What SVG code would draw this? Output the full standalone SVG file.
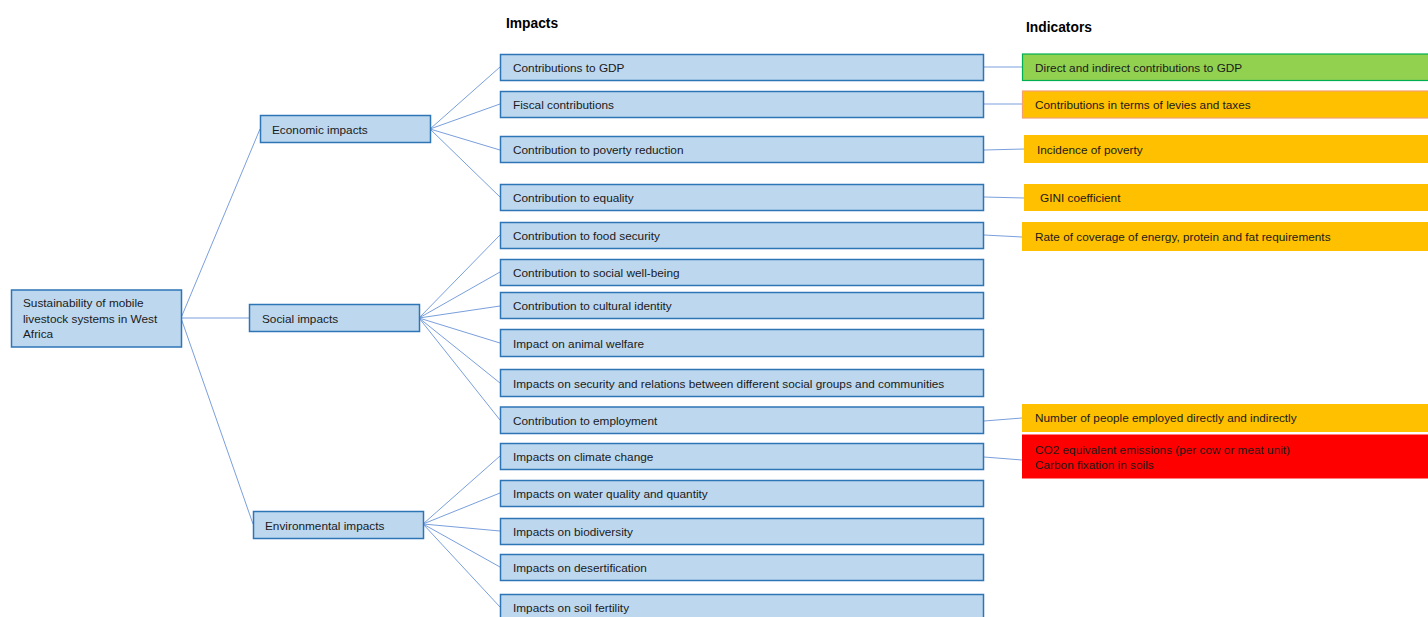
<svg xmlns="http://www.w3.org/2000/svg" width="1428" height="617" viewBox="0 0 1428 617">
  <style>
    text { font-family: "Liberation Sans", Arial, sans-serif; font-size: 11.8px; fill: #1a1a1a; }
    .hdr { font-weight: bold; font-size: 13.8px; fill: #000; }
    .box { fill: #BDD7EE; stroke: #2E75B6; stroke-width: 1.5; }
    .green { fill: #92D050; stroke: #00B050; stroke-width: 1.2; }
    .amber { fill: #FFC000; }
    .amber-edge { fill: #FFC000; stroke: #F4A070; stroke-width: 1.2; }
    .red { fill: #FF0000; }
    #connectors line { stroke: #7A9FDC; stroke-width: 1; }
  </style>

  <rect width="1428" height="617" fill="#fff"/>

  <!-- column headings -->
  <text class="hdr" x="506" y="28">Impacts</text>
  <text class="hdr" x="1026" y="32">Indicators</text>

  <!-- connectors -->
  <g id="connectors">
    <!-- root to pillars -->
    <line x1="181" y1="318" x2="260" y2="129"/>
    <line x1="181" y1="318" x2="249" y2="318"/>
    <line x1="181" y1="318" x2="253" y2="524"/>
    <!-- economic -->
    <line x1="430" y1="129" x2="500" y2="67"/>
    <line x1="430" y1="129" x2="500" y2="104"/>
    <line x1="430" y1="129" x2="500" y2="150"/>
    <line x1="430" y1="129" x2="500" y2="197"/>
    <!-- social -->
    <line x1="419" y1="318" x2="500" y2="235"/>
    <line x1="419" y1="318" x2="500" y2="272"/>
    <line x1="419" y1="318" x2="500" y2="306"/>
    <line x1="419" y1="318" x2="500" y2="343"/>
    <line x1="419" y1="318" x2="500" y2="383"/>
    <line x1="419" y1="318" x2="500" y2="420"/>
    <!-- environmental -->
    <line x1="423" y1="524" x2="500" y2="456"/>
    <line x1="423" y1="524" x2="500" y2="493"/>
    <line x1="423" y1="524" x2="500" y2="531"/>
    <line x1="423" y1="524" x2="500" y2="567"/>
    <line x1="423" y1="524" x2="500" y2="607"/>
    <!-- impacts to indicators -->
    <line x1="984" y1="67" x2="1022" y2="67"/>
    <line x1="984" y1="104" x2="1022" y2="104"/>
    <line x1="984" y1="150" x2="1024" y2="149"/>
    <line x1="984" y1="197" x2="1024" y2="198"/>
    <line x1="984" y1="235" x2="1022" y2="237"/>
    <line x1="984" y1="421" x2="1022" y2="418"/>
    <line x1="984" y1="457" x2="1022" y2="460"/>
  </g>

  <!-- root -->
  <g id="root">
    <rect class="box" x="11.5" y="290" width="170" height="57"/>
    <text x="23" y="307">Sustainability of mobile</text>
    <text x="23" y="323">livestock systems in West</text>
    <text x="23" y="338">Africa</text>
  </g>

  <!-- pillars -->
  <g id="economic">
    <rect class="box" x="260.5" y="115.5" width="170" height="27"/>
    <text x="272" y="133.5">Economic impacts</text>
  </g>
  <g id="social">
    <rect class="box" x="249.5" y="304.5" width="170" height="27"/>
    <text x="262" y="322.5">Social impacts</text>
  </g>
  <g id="environmental">
    <rect class="box" x="253.5" y="511.5" width="170" height="27"/>
    <text x="265" y="529.5">Environmental impacts</text>
  </g>

  <!-- impacts -->
  <g id="imp-gdp"><rect class="box" x="500.5" y="54.5" width="483" height="26"/><text x="513" y="71.5">Contributions to GDP</text></g>
  <g id="imp-fiscal"><rect class="box" x="500.5" y="91.5" width="483" height="26"/><text x="513" y="108.5">Fiscal contributions</text></g>
  <g id="imp-poverty"><rect class="box" x="500.5" y="136.5" width="483" height="26"/><text x="513" y="154">Contribution to poverty reduction</text></g>
  <g id="imp-equality"><rect class="box" x="500.5" y="184.5" width="483" height="26"/><text x="513" y="202">Contribution to equality</text></g>
  <g id="imp-food"><rect class="box" x="500.5" y="222.5" width="483" height="26"/><text x="513" y="240">Contribution to food security</text></g>
  <g id="imp-wellbeing"><rect class="box" x="500.5" y="259.5" width="483" height="26"/><text x="513" y="277">Contribution to social well-being</text></g>
  <g id="imp-culture"><rect class="box" x="500.5" y="292.5" width="483" height="26"/><text x="513" y="310">Contribution to cultural identity</text></g>
  <g id="imp-animal"><rect class="box" x="500.5" y="329.5" width="483" height="27"/><text x="513" y="347.5">Impact on animal welfare</text></g>
  <g id="imp-security"><rect class="box" x="500.5" y="369.5" width="483" height="27"/><text x="513" y="387.5">Impacts on security and relations between different social groups and communities</text></g>
  <g id="imp-employment"><rect class="box" x="500.5" y="407" width="483" height="26.5"/><text x="513" y="424.5">Contribution to employment</text></g>
  <g id="imp-climate"><rect class="box" x="500.5" y="443.5" width="483" height="26"/><text x="513" y="461">Impacts on climate change</text></g>
  <g id="imp-water"><rect class="box" x="500.5" y="480.5" width="483" height="26"/><text x="513" y="498">Impacts on water quality and quantity</text></g>
  <g id="imp-biodiversity"><rect class="box" x="500.5" y="518.5" width="483" height="26"/><text x="513" y="536">Impacts on biodiversity</text></g>
  <g id="imp-desert"><rect class="box" x="500.5" y="554.5" width="483" height="26"/><text x="513" y="572">Impacts on desertification</text></g>
  <g id="imp-soil"><rect class="box" x="500.5" y="594.5" width="483" height="30"/><text x="513" y="612">Impacts on soil fertility</text></g>

  <!-- indicators -->
  <g id="ind-gdp"><rect class="green" x="1022.5" y="54" width="410" height="26.5"/><text x="1035" y="71.5">Direct and indirect contributions to GDP</text></g>
  <g id="ind-levies"><rect class="amber-edge" x="1022.5" y="91" width="410" height="27"/><text x="1035" y="108.5">Contributions in terms of levies and taxes</text></g>
  <g id="ind-poverty"><rect class="amber" x="1024" y="135" width="404" height="28"/><text x="1037" y="153.5">Incidence of poverty</text></g>
  <g id="ind-gini"><rect class="amber" x="1024" y="184" width="404" height="27"/><text x="1040" y="202">GINI coefficient</text></g>
  <g id="ind-food"><rect class="amber" x="1022" y="222" width="406" height="29"/><text x="1035" y="241">Rate of coverage of energy, protein and fat requirements</text></g>
  <g id="ind-employment"><rect class="amber" x="1022" y="404" width="406" height="28"/><text x="1035" y="422">Number of people employed directly and indirectly</text></g>
  <g id="ind-climate"><rect class="red" x="1022" y="434.5" width="406" height="44"/><text x="1035" y="453.5">CO2 equivalent emissions (per cow or meat unit)</text><text x="1035" y="468.5">Carbon fixation in soils</text></g>
</svg>
